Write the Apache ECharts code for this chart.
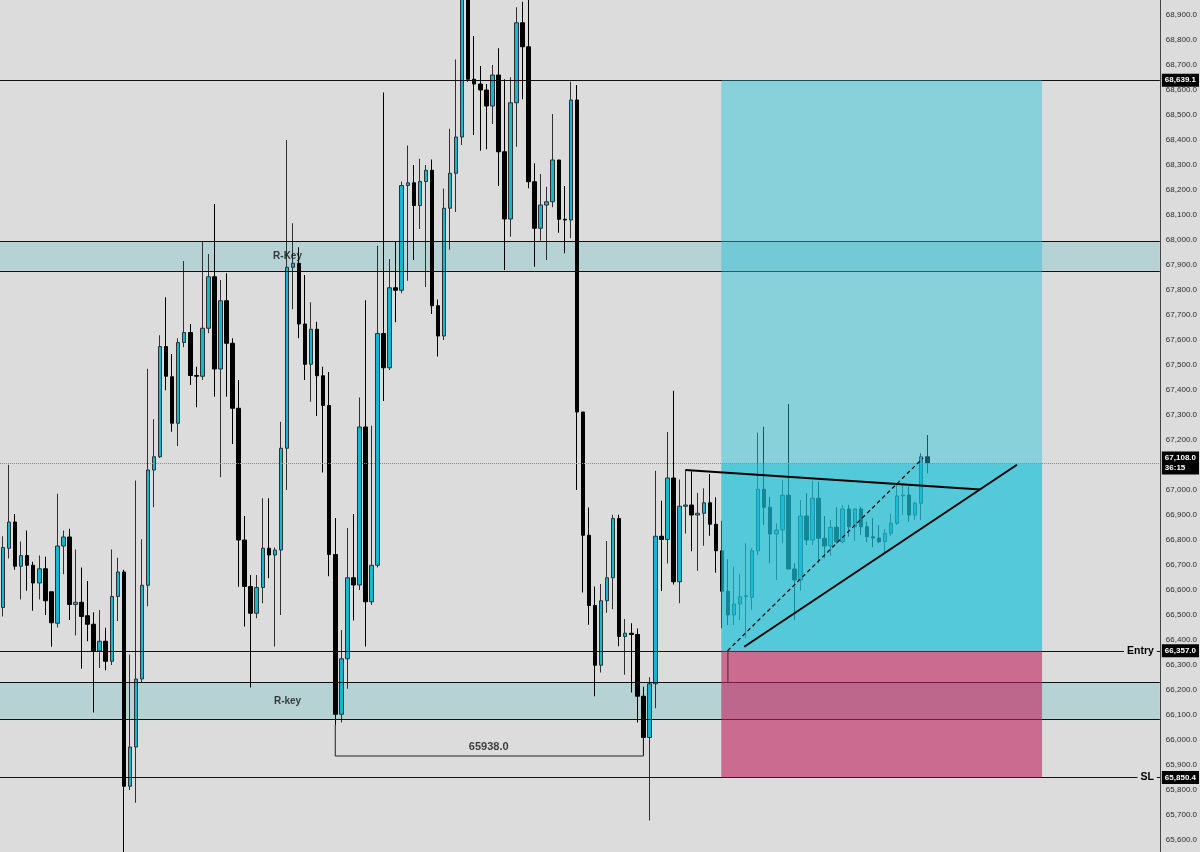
<!DOCTYPE html>
<html><head><meta charset="utf-8">
<script src="https://cdn.jsdelivr.net/npm/echarts@6/dist/echarts.min.js"></script>
<style>html,body{margin:0;padding:0;background:#dcdcdc}#c{width:1200px;height:852px}</style>
</head><body><div id="c"></div>
<script>
// candle values: [open, close, low, high]
const ohlc = [
[66530,66770,66494,66815],[66767,66872,66726,67101],[66872,66695,66681,66904],[66695,66738,66562,66794],
[66738,66699,66597,66838],[66699,66628,66517,66713],[66628,66685,66562,66738],[66685,66557,66500,66733],
[66593,66469,66373,66593],[66467,66776,66450,66985],[66776,66812,66663,66838],[66812,66542,66480,66845],
[66542,66551,66418,66762],[66551,66494,66285,66690],[66497,66463,66395,66636],[66463,66356,66110,66511],
[66356,66395,66288,66520],[66395,66315,66279,66449],[66315,66574,66300,66762],[66574,66672,66476,66729],
[66672,65815,65540,66681],[65815,65972,65800,66342],[65972,66244,65749,67038],[66244,66619,66230,66803],
[66619,67080,66535,67485],[67080,67133,66931,67283],[67133,67574,67128,67619],[67574,67455,67399,67771],
[67453,67267,67233,67544],[67267,67590,67176,67607],[67590,67630,67571,67916],[67630,67458,67420,67664],
[67458,67455,67331,67493],[67455,67647,67440,67993],[67647,67853,67627,67944],[67853,67484,67373,68144],
[67484,67757,67051,67840],[67757,67587,67373,67867],[67587,67327,67184,67607],[67327,66800,66613,67440],
[66800,66614,66454,66896],[66614,66507,66210,66660],[66507,66610,66487,66660],[66610,66767,66547,66967],
[66767,66740,66647,66967],[66740,66760,66374,66770],[66760,67167,66500,67273],[67167,67891,67000,68400],
[67891,67907,67723,68067],[67907,67664,67607,67971],[67664,67503,67440,67860],[67503,67643,67353,67751],
[67643,67457,67296,67673],[67457,67338,67070,67493],[67338,66742,66655,67472],[66742,66103,66060,66888],
[66103,66325,66070,66440],[66325,66649,66205,66848],[66649,66620,66478,66904],[66620,67252,66600,67370],
[67252,66553,66374,67759],[66553,66699,66540,67257],[66699,67626,66690,67977],[67626,67489,67356,68590],
[67489,67809,67480,67924],[67809,67799,67671,67994],[67799,68218,67787,68234],[68218,68229,67837,68378],
[68229,68138,67920,68300],[68138,68234,68044,68325],[68234,68279,67812,68300],[68279,67737,67704,68322],
[67737,67616,67534,67762],[67616,68127,67600,68206],[68127,68267,67961,68445],[68267,68412,68112,68722],
[68412,68985,68380,69060],[68985,68643,68633,69040],[68643,68624,68420,68816],[68624,68600,68357,68696],
[68600,68536,68363,68624],[68536,68660,68464,68700],[68660,68353,68216,68767],[68353,68084,67880,68643],
[68084,68549,68013,68651],[68549,68869,68373,68931],[68869,68773,68563,68953],[68773,68233,68207,69000],
[68233,68047,67893,68307],[68047,68140,67997,68264],[68140,68153,67920,68213],[68153,68320,68131,68504],
[68320,68083,68029,68320],[68083,68080,67947,68216],[68080,68560,68007,68633],[68560,67312,67000,68620],
[67312,66819,66590,67312],[66819,66538,66461,66930],[66538,66299,66175,66614],[66299,66557,66270,66624],
[66557,66649,66509,66796],[66649,66886,66523,66901],[66886,66414,66375,66901],[66414,66427,66261,66484],
[66427,66422,66190,66467],[66422,66175,66070,66446],[66175,66010,65938,66213],[66010,66225,65678,66251],
[66225,66815,66127,67077],[66815,66802,66596,66957],[66802,67048,66706,67232],[67048,66633,66622,67397],
[66633,66935,66547,67042],[66935,66940,66826,67080],[66940,66900,66755,67075],[66900,66907,66677,66989],
[66907,66949,66777,67007],[66949,66863,66817,67064],[66863,66757,66669,66971],[66757,66595,66447,66877],
[66595,66500,66460,66723],[66500,66544,66460,66693],[66544,66573,66480,66663],[66573,66577,66407,66787],
[66571,66757,66520,66767],[66757,67003,66740,67229],[67003,66931,66860,67253],[66931,66824,66707,66973],
[66824,66840,66640,66867],[66840,66979,66787,67040],[66979,66684,66684,67344],[66684,66640,66480,66707],
[66640,66896,66597,66960],[66896,66800,66780,66987],[66800,66967,66780,67037],[66967,66807,66707,67033],
[66807,66776,66727,66896],[66776,66851,66737,66880],[66851,66793,66784,66931],[66793,66924,66787,66940],
[66924,66853,66813,66940],[66853,66924,66797,66927],[66924,66853,66820,66933],[66853,66813,66791,66873],
[66813,66808,66771,66887],[66808,66793,66787,66860],[66793,66827,66749,66843],[66827,66867,66816,66904],
[66867,66976,66860,67020],[66976,66980,66900,67020],[66980,66900,66873,67013],[66900,66947,66880,66953],
[66947,67133,66880,67147],[67133,67108,67067,67220]
];
const slotCount = 192;
const categories = Array.from({length: slotCount}, (_, i) => String(i));
const yRange = [65552, 68960];
const yTicks = [65600,65700,65800,65900,66000,66100,66200,66300,66400,66500,66600,66700,66800,66900,
  67000,67100,67200,67300,67400,67500,67600,67700,67800,67900,68000,68100,68200,68300,68400,68500,
  68600,68700,68800,68900];
const levels = {target: 68639.1, last: 67108.0, entry: 66357.0, stop: 65850.4};
const lastTimer = '36:15';
const zones = [[67877, 67995], [66083, 66231]];
const positionX = [118.9, 172.0];
const upperTrend = [[112.95, 67080], [161.73, 67002]];
const lowerTrend = [[122.7, 66373], [167.85, 67101]];
const dashedTrend = [[119.94, 66357], [152.3, 67128]];
const bracket = [[55, 66060], [55, 65936], [106, 65936], [106, 66010]];
const entryTick = [[120, 66357], [120, 66228]];
const notes = [[47.1, 67936, 'R-Key'], [47.1, 66157, 'R-key'], [80.4, 65972, '65938.0']];
const noteSizes = [10, 10, 11];

const BG = '#dcdcdc';
const fmt = v => Number(v).toLocaleString('en-US', {minimumFractionDigits: 1, maximumFractionDigits: 1});
const boxLabel = (text) => ({
  show: true, position: 'end', distance: 2, formatter: text,
  backgroundColor: '#000', color: '#fff', fontSize: 8, fontWeight: 'bold',
  fontFamily: 'Liberation Sans', padding: [2, 3, 1, 3], lineHeight: 10
});
const sideText = (text) => ({
  show: true, position: 'insideEnd', distance: 3, formatter: text, backgroundColor: BG,
  padding: [1, 3], color: '#000', fontWeight: 'bold', fontSize: 10.5, fontFamily: 'Liberation Sans'
});
const solid = {color: '#111', width: 1.2, type: 'solid'};
const posBoxes = [[levels.target, levels.last], [levels.last, levels.entry], [levels.entry, levels.stop]];
const posColors = ['rgba(33,193,215,0.45)', 'rgba(26,193,216,0.7)', 'rgba(193,32,93,0.6)'];

const rectItem = (colors) => (params, api) => {
  const p0 = api.coord([api.value(0), api.value(2)]);
  const p1 = api.coord([api.value(1), api.value(3)]);
  return {type: 'rect', shape: {x: p0[0], y: Math.min(p0[1], p1[1]), width: p1[0] - p0[0], height: Math.abs(p1[1] - p0[1])},
          style: {fill: colors[params.dataIndex % colors.length]}};
};

const chart = echarts.init(document.getElementById('c'), null, {renderer: 'canvas'});
chart.setOption({
  backgroundColor: BG,
  animation: false,
  textStyle: {fontFamily: 'Liberation Sans'},
  grid: {left: 0, right: 39, top: 0, bottom: 0},
  xAxis: [
    {type: 'category', data: categories, show: false, boundaryGap: true},
    {type: 'value', min: -0.5, max: slotCount - 0.5, show: false}
  ],
  yAxis: {
    type: 'value', position: 'right', min: yRange[0], max: yRange[1],
    axisLine: {show: true, onZero: false, lineStyle: {color: '#444', width: 1}},
    axisTick: {show: false}, splitLine: {show: false},
    axisLabel: {customValues: yTicks, formatter: fmt, fontSize: 8, color: '#2a2a2a', margin: 6, fontFamily: 'Liberation Sans'}
  },
  series: [
    {
      type: 'custom', xAxisIndex: 1, z: 1, silent: true,
      encode: {x: [0, 1], y: [2, 3]},
      data: zones.map(z => [-0.5, slotCount - 0.5, z[1], z[0]]),
      renderItem: rectItem(['#b7d2d5'])
    },
    {
      type: 'candlestick', data: ohlc, barWidth: 4, z: 3, silent: true,
      itemStyle: {color: '#12b7d0', color0: '#000', borderColor: '#303030', borderColor0: '#000', borderWidth: 1}
    },
    {
      type: 'custom', xAxisIndex: 1, z: 5, silent: true,
      encode: {x: [0, 1], y: [2, 3]},
      data: posBoxes.map(b => [positionX[0], positionX[1], b[0], b[1]]),
      renderItem: rectItem(posColors)
    },
    {type: 'line', xAxisIndex: 1, z: 8, silent: true, symbol: 'none', data: upperTrend, lineStyle: {color: '#000', width: 2}},
    {type: 'line', xAxisIndex: 1, z: 8, silent: true, symbol: 'none', data: lowerTrend, lineStyle: {color: '#000', width: 2}},
    {type: 'line', xAxisIndex: 1, z: 8, silent: true, symbol: 'none', data: dashedTrend, lineStyle: {color: '#111', width: 1.3, type: [4, 3]}},
    {type: 'line', xAxisIndex: 1, z: 8, silent: true, symbol: 'none', data: bracket, lineStyle: {color: '#222', width: 1}},
    {type: 'line', xAxisIndex: 1, z: 8, silent: true, symbol: 'none', data: entryTick, lineStyle: {color: '#333', width: 1}},
    {
      type: 'scatter', xAxisIndex: 1, z: 9, silent: true, symbolSize: 1, itemStyle: {color: 'rgba(0,0,0,0)'},
      data: notes.map((n, k) => ({value: [n[0], n[1]], name: n[2], label: {fontSize: noteSizes[k]}})),
      label: {show: true, position: 'inside', formatter: '{b}', color: '#111', fontWeight: 'bold', fontFamily: 'Liberation Sans'}
    },
    {
      type: 'line', xAxisIndex: 1, z: 10, silent: true, data: [], symbol: 'none',
      markLine: {
        silent: true, symbol: ['none', 'none'], animation: false,
        data: [
          {yAxis: zones[0][0], lineStyle: solid, label: {show: false}},
          {yAxis: zones[0][1], lineStyle: solid, label: {show: false}},
          {yAxis: zones[1][0], lineStyle: solid, label: {show: false}},
          {yAxis: zones[1][1], lineStyle: solid, label: {show: false}},
          {yAxis: levels.last, lineStyle: {color: '#8c8c8c', width: 1, type: 'dotted'}, label: boxLabel(fmt(levels.last) + '\n' + lastTimer)},
          {yAxis: levels.target, lineStyle: solid, label: boxLabel(fmt(levels.target))},
          {yAxis: levels.entry, lineStyle: solid, label: boxLabel(fmt(levels.entry))},
          {yAxis: levels.stop, lineStyle: solid, label: boxLabel(fmt(levels.stop))},
          {yAxis: levels.entry, lineStyle: solid, label: sideText('Entry')},
          {yAxis: levels.stop, lineStyle: solid, label: sideText('SL')}
        ]
      }
    }
  ]
});
</script></body></html>
